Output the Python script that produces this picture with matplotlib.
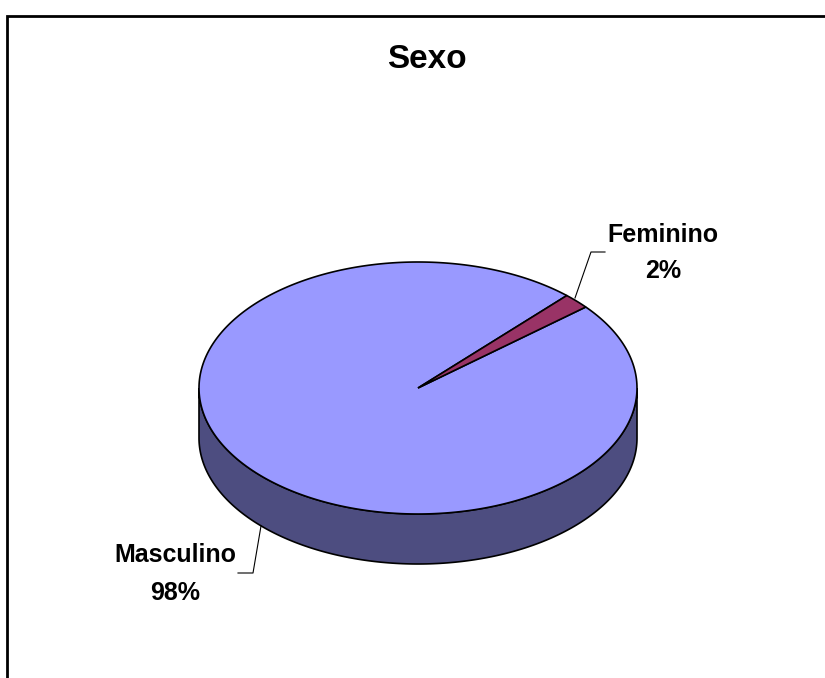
import numpy as np
import matplotlib.pyplot as plt
from matplotlib.patches import Polygon, Rectangle

# Data
labels = ['Masculino', 'Feminino']
values = [98, 2]
top_colors = ['#9999FF', '#993366']
side_colors = ['#4D4D80', '#4D1A33']
title = 'Sexo'

# pie geometry in pixel coordinates
cx, cy = 418, 388
rx, ry = 219, 126
depth = 50
start = 40 + 360 * values[1] / 100  # Masculino starts where Feminino ends


def pt(t, dy=0):
    t = np.radians(t)
    return cx + rx * np.cos(t), cy - ry * np.sin(t) + dy


fig = plt.figure(figsize=(8.25, 6.78), dpi=100)
ax = fig.add_axes([0, 0, 1, 1])
ax.set_xlim(0, 825)
ax.set_ylim(678, 0)
ax.axis('off')

# outer frame (cut off at right and bottom)
fig.patches.append(Rectangle((7 / 825, -0.1), 1.2, 1 - 16 / 678 + 0.1,
                             transform=fig.transFigure, fill=False,
                             edgecolor='black', linewidth=2))

total = sum(values)
spans = []
a = start
for v in values:
    span = 360 * v / total
    spans.append((a, a + span))
    a += span

# side wall (front half only)
for (a0, a1), col in zip(spans, side_colors):
    for k in range(-1, 2):
        lo = max(a0, 180 + 360 * k)
        hi = min(a1, 360 + 360 * k)
        if hi <= lo:
            continue
        ts = np.linspace(lo, hi, 200)
        top = [pt(t) for t in ts]
        bot = [pt(t, depth) for t in ts[::-1]]
        ax.add_patch(Polygon(top + bot, closed=True, facecolor=col,
                             edgecolor='black', linewidth=1.2, zorder=2))

# top face wedges
for (a0, a1), col in zip(spans, top_colors):
    ts = np.linspace(a0, a1, 400)
    verts = [(cx, cy)] + [pt(t) for t in ts]
    ax.add_patch(Polygon(verts, closed=True, facecolor=col,
                         edgecolor='black', linewidth=1.2, zorder=3))

# labels and leader lines
ax.text(663, 235, 'Feminino', ha='center', va='center', fontsize=18,
        fontweight='bold', family='Liberation Sans')
ax.text(663, 271, '%d%%' % values[1], ha='center', va='center', fontsize=18,
        fontweight='bold', family='Liberation Sans')
ax.plot([575, 591, 605], [298, 252, 252], color='black', linewidth=0.8, zorder=4)

ax.text(175, 555, 'Masculino', ha='center', va='center', fontsize=18,
        fontweight='bold', family='Liberation Sans')
ax.text(175, 593, '%d%%' % values[0], ha='center', va='center', fontsize=18,
        fontweight='bold', family='Liberation Sans')
ax.plot([261, 253, 238], [526, 573, 573], color='black', linewidth=0.8, zorder=4)

ax.text(427, 60, title, ha='center', va='center', fontsize=24,
        fontweight='bold', family='Liberation Sans')

fig.savefig('out.png', dpi=100)
